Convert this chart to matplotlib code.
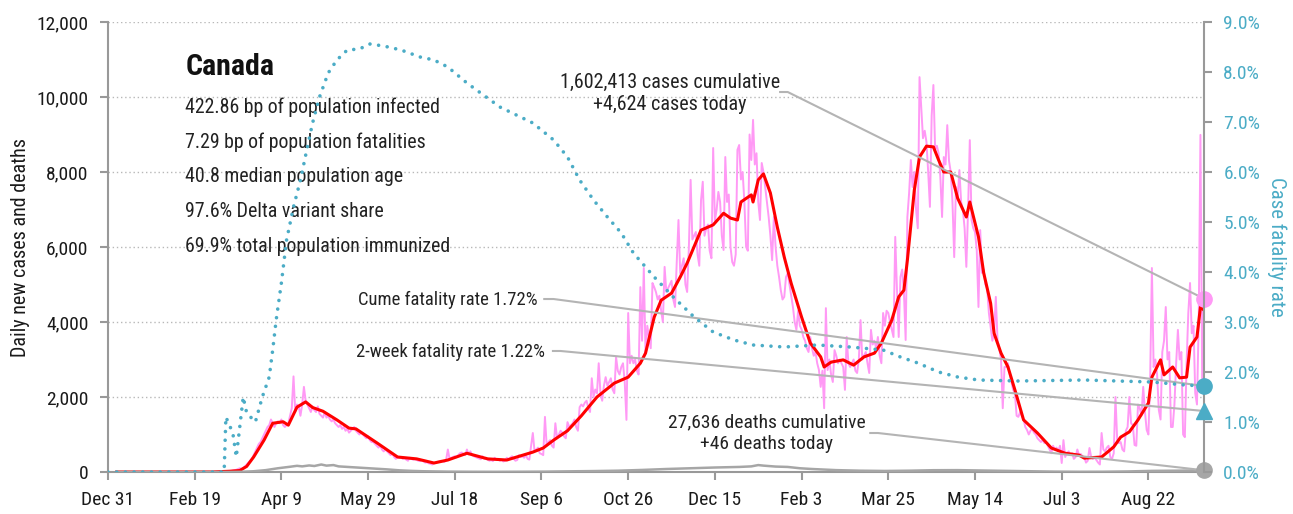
import matplotlib
matplotlib.use("Agg")
import matplotlib.pyplot as plt
from matplotlib import font_manager
from matplotlib.ticker import FuncFormatter
import numpy as np


def pick_font(names):
    have = {f.name for f in font_manager.fontManager.ttflist}
    for n in names:
        if n in have:
            return n
    return "DejaVu Sans"


FONT = pick_font(["Liberation Sans Narrow", "Roboto Condensed", "DejaVu Sans"])
plt.rcParams["font.family"] = FONT
plt.rcParams["font.stretch"] = "condensed"

# --- Canada, daily reported cases, Dec 31 2019 .. Sep 23 2021 (one row per week, Tue..Mon)
cases_daily = [
    0, 0, 0, 0, 0, 0, 0,
    0, 0, 0, 0, 0, 0, 0,
    0, 0, 0, 0, 0, 0, 0,
    0, 0, 0, 0, 1, 0, 0,
    0, 1, 0, 0, 0, 0, 0,
    1, 0, 0, 0, 0, 0, 0,
    0, 0, 1, 0, 0, 0, 0,
    0, 0, 0, 1, 0, 0, 1,
    2, 1, 3, 0, 4, 2, 3,
    3, 5, 8, 5, 10, 12, 15,
    15, 25, 40, 50, 60, 80, 100,
    80, 110, 150, 200, 250, 300, 350,
    450, 550, 650, 750, 800, 900, 1000,
    1100, 1200, 1250, 1400, 1300, 1200, 1300,
    1350, 1300, 1400, 1250, 1200, 1250, 1300,
    1500, 1700, 2550, 1600, 1800, 1750, 1500,
    1800, 2270, 1900, 1800, 1700, 1600, 1750,
    1650, 1600, 1750, 1550, 1500, 1450, 1600,
    1450, 1500, 1400, 1350, 1400, 1300, 1250,
    1200, 1250, 1150, 1200, 1100, 1150, 1050,
    1100, 1150, 1200, 1100, 1050, 1000, 1050,
    1000, 950, 900, 950, 850, 800, 800,
    750, 700, 650, 700, 600, 550, 600,
    550, 500, 450, 500, 400, 350, 400,
    380, 400, 350, 370, 330, 300, 380,
    350, 330, 340, 320, 300, 290, 310,
    280, 250, 260, 230, 220, 200, 240,
    250, 270, 280, 300, 290, 270, 320,
    600, 350, 380, 400, 420, 390, 450,
    500, 520, 480, 450, 600, 470, 550,
    450, 420, 400, 380, 360, 340, 420,
    350, 380, 330, 300, 320, 290, 380,
    320, 350, 300, 330, 280, 300, 380,
    330, 380, 420, 350, 300, 320, 450,
    400, 420, 380, 450, 350, 330, 700,
    1040, 550, 600, 650, 500, 480, 450,
    1470, 700, 800, 850, 700, 650, 1300,
    900, 1000, 1100, 1050, 950, 900, 1330,
    1200, 1250, 1300, 1400, 1200, 1100, 1730,
    1800, 1750, 1850, 1900, 1700, 1600, 2500,
    2000, 2200, 2100, 2900, 2100, 1900, 2300,
    2530, 2300, 2400, 2500, 2200, 2100, 3070,
    2700, 2600, 2800, 2900, 2400, 1390, 4240,
    2900, 3100, 2900, 3000, 2700, 2600, 4930,
    3500, 5440, 3170, 3900, 3600, 3300, 5040,
    4930, 4800, 4600, 4700, 4300, 4000, 5470,
    4800, 4900, 5000, 5100, 4600, 4400, 5600,
    6720, 5300, 5500, 5700, 5000, 4800, 6000,
    7790, 6200, 6300, 6400, 5800, 5500, 7250,
    7740, 6300, 6500, 6600, 5900, 5700, 8640,
    6700, 7000, 7470, 7200, 6300, 5920, 8400,
    7200, 7400, 6000, 5600, 5500, 5800, 8590,
    8720, 7800, 8000, 7200, 6000, 5900, 9000,
    8320, 9390, 8200, 8500, 7200, 6720, 8240,
    8000, 7600, 7200, 6800, 6300, 5650, 6800,
    6000, 5500, 5200, 4850, 4600, 4670, 5200,
    5300, 5000, 4700, 4400, 4000, 3790, 4300,
    3900, 3800, 3600, 3500, 3300, 3200, 3600,
    3300, 3100, 3200, 2900, 2720, 2270, 2700,
    1700, 4370, 2720, 3000, 2600, 2400, 3250,
    3100, 2900, 3000, 2900, 2800, 2190, 3600,
    2900, 2800, 2900, 3000, 2700, 2640, 3000,
    4050, 3000, 3100, 3200, 2900, 2640, 3790,
    3400, 3500, 3300, 3600, 3100, 2900, 4240,
    3900, 4300, 4240, 4000, 3800, 3600, 6270,
    4850, 3600, 5200, 5400, 4800, 3520, 6800,
    7440, 8320, 7600, 8000, 7000, 6500, 10530,
    9730, 8900, 9100, 8800, 8000, 7070, 9500,
    10320, 8600, 8700, 8500, 7870, 6800, 8400,
    8200, 9250, 8300, 8000, 7200, 5730, 7600,
    7300, 8050, 7200, 7000, 6500, 5470, 7000,
    8850, 6720, 6500, 6400, 5920, 4400, 6450,
    5310, 5400, 5000, 4900, 4240, 3870, 3500,
    3700, 4670, 3500, 3300, 3000, 1700, 2800,
    2800, 2900, 2600, 2400, 2190, 2100, 1500,
    1470, 1600, 1500, 1400, 1200, 1120, 1000,
    1100, 1150, 1050, 1000, 900, 850, 800,
    850, 770, 800, 700, 600, 500, 700,
    600, 650, 550, 700, 240, 850, 400,
    500, 550, 450, 500, 350, 400, 600,
    450, 480, 420, 400, 250, 300, 640,
    400, 350, 380, 320, 250, 200, 1040,
    600, 550, 650, 700, 400, 350, 500,
    2000, 850, 770, 800, 600, 550, 1100,
    1200, 2000, 1300, 1250, 720, 700, 1800,
    1700, 1500, 2270, 1600, 1120, 1000, 2500,
    5440, 2800, 3000, 2600, 1650, 1400, 3200,
    3500, 4400, 3000, 3200, 1200, 1200, 1800,
    2900, 3790, 3000, 3200, 1000, 930, 2900,
    4240, 5040, 3700, 3900, 2100, 1800, 4000,
    8990, 2370, 4624,
]

# 7-day average of new cases (day index, value)
avg_days = [5, 60, 70, 76, 80, 84, 90, 95, 101, 104, 109, 114, 118, 124, 132,
            139, 143, 155, 167, 178, 188, 196, 207, 219, 230, 245, 251, 257,
            265, 273, 282, 292, 300, 307, 310, 315, 319, 325, 330, 334, 342,
            349, 355, 359, 363, 365, 371, 372, 375, 378, 382, 386, 390, 394,
            400, 405, 411, 413, 417, 424, 430, 436, 442, 446, 452, 456, 459,
            461, 465, 468, 472, 476, 479, 482, 486, 490, 495, 497, 502, 505,
            509, 511, 515, 519, 523, 528, 536, 544, 552, 560, 563, 573, 580,
            584, 589, 594, 600, 602, 607, 609, 614, 618, 622, 624, 628, 630, 632]
avg_cases = [0, 1, 20, 40, 150, 400, 850, 1300, 1340, 1250, 1730, 1870, 1720,
             1620, 1390, 1170, 1150, 780, 400, 350, 240, 320, 500, 350, 320,
             530, 640, 850, 1100, 1500, 2000, 2370, 2530, 2900, 3170, 4130,
             4580, 4770, 5200, 5570, 6450, 6590, 6900, 6770, 6720, 7200, 7390,
             7200, 7790, 7950, 7440, 6530, 5730, 5030, 4130, 3440, 3070, 2800,
             2930, 2990, 2850, 3070, 3170, 3440, 4050, 4670, 4850, 5650, 7520,
             8400, 8690, 8670, 8320, 8000, 8000, 7300, 6800, 7200, 6270, 5310,
             4500, 3700, 3170, 2800, 2190, 1390, 1040, 640, 500, 450, 370, 400,
             670, 930, 1070, 1390, 1840, 2530, 2990, 2590, 2800, 2510, 2530,
             3330, 3600, 4400, 4320]

# daily deaths (day index, value)
death_days = [5, 70, 77, 84, 91, 98, 105, 109, 112, 116, 119, 123, 126, 130,
              133, 140, 147, 154, 161, 168, 175, 182, 196, 210, 224, 238, 252,
              266, 280, 294, 308, 322, 336, 350, 364, 371, 375, 378, 385, 392,
              399, 406, 420, 434, 448, 462, 476, 490, 504, 518, 532, 546, 560,
              574, 588, 602, 616, 624, 632]
deaths = [0, 1, 5, 20, 50, 100, 140, 165, 150, 175, 160, 200, 170, 185, 150,
          130, 110, 90, 70, 45, 30, 20, 10, 6, 5, 7, 10, 18, 25, 35, 55, 80,
          100, 120, 135, 150, 185, 170, 145, 135, 100, 80, 50, 35, 28, 35, 48,
          50, 40, 30, 20, 10, 6, 7, 15, 30, 35, 40, 46]

# cumulative case fatality rate, percent (day index, value)
cfr_days = [0, 67, 68, 72, 74, 76, 78, 80, 85, 89, 93, 95, 97, 100, 103, 107,
            111, 115, 118, 122, 127, 132, 138, 145, 151, 159, 169, 180, 188,
            196, 207, 226, 245, 257, 265, 272, 280, 288, 296, 303, 315, 326,
            338, 349, 361, 372, 390, 409, 428, 447, 457, 467, 479, 490, 502,
            525, 563, 602, 621, 632]
cfr_pct = [0, 0, 1.10, 0.78, 0.30, 0.90, 1.50, 1.18, 1.00, 1.50, 1.90, 2.44,
           3.04, 3.78, 4.64, 5.30, 5.84, 6.50, 6.98, 7.50, 7.98, 8.24, 8.44,
           8.46, 8.56, 8.52, 8.44, 8.30, 8.24, 8.10, 7.78, 7.30, 6.98, 6.64,
           6.30, 5.84, 5.44, 5.10, 4.78, 4.38, 3.90, 3.50, 3.10, 2.80, 2.64,
           2.54, 2.50, 2.54, 2.50, 2.44, 2.30, 2.18, 2.00, 1.90, 1.84, 1.82,
           1.84, 1.80, 1.74, 1.72]

tick_days = [0, 50, 100, 150, 200, 250, 300, 350, 400, 450, 500, 550, 600]
tick_labels = ["Dec 31", "Feb 19", "Apr 9", "May 29", "Jul 18", "Sep 6",
               "Oct 26", "Dec 15", "Feb 3", "Mar 25", "May 14", "Jul 3", "Aug 22"]

country = "Canada"
stats_lines = ["422.86 bp of population infected",
               "7.29 bp of population fatalities",
               "40.8 median population age",
               "97.6% Delta variant share",
               "69.9% total population immunized"]
total_cases = 1602413
total_deaths = 27636
cume_cfr = 1.72
two_week_cfr = 1.22

PINK = "#ff99f5"
RED = "#ff0000"
TEAL = "#4bacc6"
GREY = "#a6a6a6"
AXIS = "#999999"
LEADER = "#b4b4b4"

days = np.arange(len(cases_daily))
last_day = days[-1]
cases_today = cases_daily[-1]
deaths_today = deaths[-1]

fig = plt.figure(figsize=(12.93, 5.14), dpi=100)
ax = fig.add_axes([0.0835, 0.0817, 0.8476, 0.8755])
ax2 = ax.twinx()

YMAX = 12000
PMAX = 9.0
k = YMAX / PMAX  # percent -> case axis units

ax.plot(days[5:], cases_daily[5:], color=PINK, lw=1.4, zorder=2)
ax.plot(avg_days, avg_cases, color=RED, lw=2.2, zorder=3)
ax.plot(death_days, deaths, color=GREY, lw=1.8, zorder=3)

ax2.plot(cfr_days, cfr_pct, color=TEAL, lw=2.6, linestyle=(0, (0.01, 2.4)),
         dash_capstyle="round", zorder=3)

ax.set_xlim(0, last_day)
ax.set_ylim(0, YMAX)
ax2.set_ylim(0, PMAX)

ax.set_yticks(np.arange(0, YMAX + 1, 2000))
ax.yaxis.set_major_formatter(FuncFormatter(lambda v, p: f"{int(v):,}"))
ax2.set_yticks(np.arange(0, PMAX + 0.01, 1.0))
ax2.yaxis.set_major_formatter(FuncFormatter(lambda v, p: f"{v:.1f}%"))
ax.set_xticks(tick_days)
ax.set_xticklabels(tick_labels)

for y in np.arange(2000, YMAX + 1, 2000):
    ax.axhline(y, color="#b8b8b8", lw=1.0, linestyle=(0, (1, 2)), zorder=1)

for s in ["top", "right"]:
    ax.spines[s].set_visible(False)
for s in ["top", "left", "bottom"]:
    ax2.spines[s].set_visible(False)
for s in ["left", "bottom"]:
    ax.spines[s].set_color(AXIS)
    ax.spines[s].set_linewidth(1.5)
ax2.spines["right"].set_color(AXIS)
ax2.spines["right"].set_linewidth(1.5)

ax.tick_params(axis="both", colors=AXIS, width=1.5, length=6, labelsize=14,
               labelcolor="#1a1a1a")
ax.tick_params(axis="x", pad=8)
ax.tick_params(axis="y", pad=8)
ax2.tick_params(axis="y", colors=AXIS, width=1.5, length=6, labelsize=14,
                labelcolor=TEAL, pad=8)

ax.set_ylabel("Daily new cases and deaths", fontsize=14.5, color="#1a1a1a",
              labelpad=5)
ax2.set_ylabel("Case fatality rate", fontsize=15, color=TEAL, rotation=270,
               labelpad=19)

# title block
ax.text(44.5, 10800, country, fontsize=21.5, fontweight="bold", ha="left",
        va="center", color="#111111")
for i, line in enumerate(stats_lines):
    ax.text(44.5, 9733 - i * 933, line, fontsize=14.3, ha="left", va="center",
            color="#222222")

# callouts with leader lines
txt = dict(color="#222222", va="center")
ax.text(324, 10093, f"{total_cases:,} cases cumulative\n+{cases_today:,} cases today",
        ha="center", linespacing=1.25, fontsize=14.5, **txt)
ax.text(247.7, 4600, f"Cume fatality rate {cume_cfr:.2f}%", ha="right",
        fontsize=13.4, **txt)
ax.text(252.3, 3210, f"2-week fatality rate {two_week_cfr:.2f}%", ha="right",
        fontsize=13.4, **txt)
ax.text(380, 1027, f"{total_deaths:,} deaths cumulative\n+{deaths_today} deaths today",
        ha="center", linespacing=1.25, fontsize=14, **txt)

leader = dict(color=LEADER, lw=1.5, zorder=4, solid_capstyle="butt")
ax.plot([387, 392, last_day], [10133, 10133, cases_today], **leader)
ax.plot([251, 257, last_day], [4613, 4613, cume_cfr * k], **leader)
ax.plot([256, 261, last_day], [3227, 3227, two_week_cfr * k], **leader)
ax.plot([439, 444, last_day], [1040, 1040, deaths_today], **leader)

# end markers
ax.plot(last_day, cases_today, "o", ms=11, color=PINK, clip_on=False, zorder=6)
ax.plot(last_day, deaths_today, "o", ms=11, color=GREY, clip_on=False, zorder=6)
ax2.plot(last_day, cume_cfr, "o", ms=11, color=TEAL, clip_on=False, zorder=6)
ax2.plot(last_day, two_week_cfr, "^", ms=11, color=TEAL, clip_on=False, zorder=6)

fig.savefig("out.png", dpi=100)
